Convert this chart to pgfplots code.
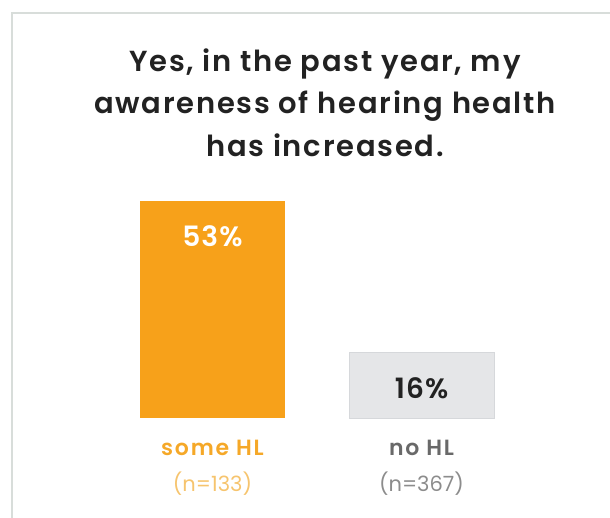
\documentclass[border=0pt]{standalone}
\usepackage{pgfplots}
\pgfplotsset{compat=1.18}
\usepackage{fontspec}
\setmainfont{Poppins}[BoldFont={Poppins SemiBold}]
\definecolor{barorange}{RGB}{247,161,26}
\definecolor{bargray}{RGB}{229,230,232}
\definecolor{bargrayedge}{RGB}{214,216,219}
\definecolor{lblorange}{RGB}{245,168,40}
\definecolor{lblorangelight}{RGB}{246,196,110}
\definecolor{lblgray}{RGB}{105,105,105}
\definecolor{lblgraylight}{RGB}{140,140,140}
\definecolor{titlecol}{RGB}{34,34,34}
\definecolor{bordercol}{RGB}{216,221,218}
\begin{document}
\begin{tikzpicture}[x=1pt,y=1pt]
\path[use as bounding box] (0,0) rectangle (610,518);
\draw[line width=2pt, color=bordercol] (610,505) -- (12,505) -- (12,0);
\tikzset{ttl/.style={anchor=base, text=titlecol, font=\fontsize{29}{35}\selectfont\bfseries\addfontfeature{LetterSpace=6}}}
\node[ttl] at (325,446) {Yes, in the past year, my};
\node[ttl] at (325,404) {awareness of hearing health};
\node[ttl] at (325,361) {has increased.};
\begin{axis}[
  at={(97.55pt,100pt)}, anchor=south west,
  scale only axis, width=438.9pt, height=246pt,
  xmin=-0.55, xmax=1.55, ymin=0, ymax=60,
  ybar, bar width=145pt, bar shift=0pt,
  axis line style={draw=none}, major tick length=0pt,
  ytick=\empty, xtick={0,1},
  xticklabels={{\color{lblorange}\fontsize{22}{36}\selectfont\bfseries\addfontfeature{LetterSpace=8} some HL\\\color{lblorangelight}\fontsize{21}{36}\selectfont\mdseries (n=133)},{\color{lblgray}\fontsize{22}{36}\selectfont\bfseries\addfontfeature{LetterSpace=8} no HL\\\color{lblgraylight}\fontsize{21}{36}\selectfont\mdseries (n=367)}},
  xticklabel style={align=center, font=\fontsize{21}{36}\selectfont, yshift=-19pt},
  clip=false,
  /pgf/number format/assume math mode=true,
  nodes near coords={\pgfmathprintnumber{\pgfplotspointmeta}\%},
  nodes near coords style={anchor=center, yshift=-36pt, font=\fontsize{28}{30}\selectfont\bfseries\addfontfeature{LetterSpace=4}},
]
\addplot[fill=barorange, draw=none, nodes near coords style={text=white}] coordinates {(0,53)};
\addplot[fill=bargray, draw=bargrayedge, line width=0.8pt, nodes near coords style={text=titlecol}] coordinates {(1,16)};
\end{axis}
\end{tikzpicture}
\end{document}
